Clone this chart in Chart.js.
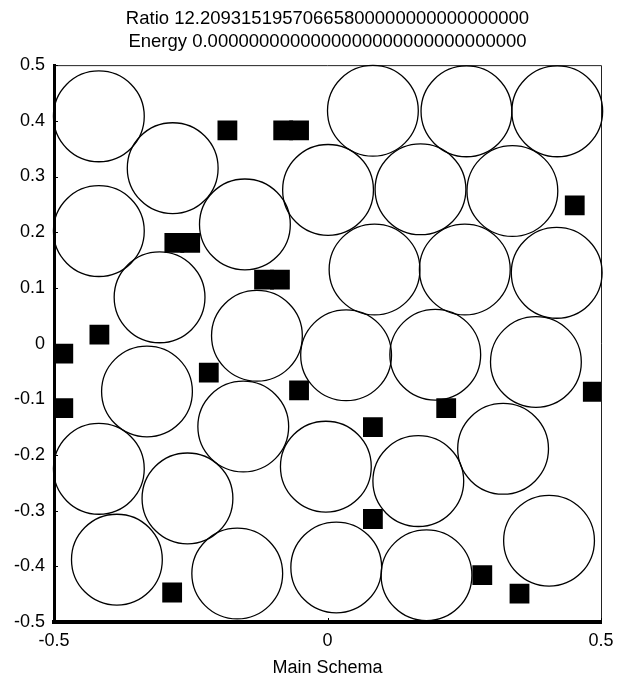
<!DOCTYPE html>
<html>
<head>
<meta charset="utf-8">
<script src="https://cdn.jsdelivr.net/npm/chart.js@4.4.1/dist/chart.umd.min.js"></script>
<style>
  html, body { margin: 0; padding: 0; background: #fff; }
  #wrap { width: 628px; height: 679px; }
</style>
</head>
<body>
<div id="wrap"><canvas id="c" width="628" height="679"></canvas></div>
<script>
// Header text
const titleLines = [
  'Ratio 12.20931519570665800000000000000000',
  'Energy 0.0000000000000000000000000000000'
];
const xAxisTitle = 'Main Schema';

// Disc centres (data units) and their common radius
const circleX = [-0.418, 0.083, 0.254, 0.420, -0.283, 0.001, 0.170, 0.338, -0.418, -0.151,
                 0.086, 0.251, 0.419, -0.307, -0.129, 0.034, 0.197, 0.381, -0.330, -0.154,
                 -0.003, 0.166, 0.321, -0.418, -0.256, 0.405, -0.385, -0.165, 0.016, 0.181];
const circleY = [0.408, 0.418, 0.417, 0.417, 0.315, 0.276, 0.277, 0.274, 0.202, 0.214,
                 0.133, 0.133, 0.127, 0.083, 0.014, -0.021, -0.020, -0.033, -0.086, -0.149,
                 -0.221, -0.247, -0.189, -0.225, -0.278, -0.354, -0.388, -0.413, -0.402, -0.416];
const circleRadius = 0.083;

// Filled square markers
const squareX = [-0.183, -0.081, -0.052, -0.280, -0.251, -0.116, -0.087, -0.417, 0.452, -0.483,
                 -0.483, -0.217, -0.052, -0.284, 0.217, 0.485, 0.083, 0.083, 0.283, 0.351];
const squareY = [0.383, 0.383, 0.383, 0.181, 0.181, 0.115, 0.115, 0.016, 0.248, -0.018,
                 -0.116, -0.052, -0.084, -0.447, -0.116, -0.0865, -0.150, -0.315, -0.416, -0.449];

// Axis ticks
const xTicks = [-0.5, 0, 0.5];
const xTickLabels = ['-0.5', '0', '0.5'];
const yTicks = [0.5, 0.4, 0.3, 0.2, 0.1, 0, -0.1, -0.2, -0.3, -0.4, -0.5];
const yTickLabels = ['0.5', '0.4', '0.3', '0.2', '0.1', '0', '-0.1', '-0.2', '-0.3', '-0.4', '-0.5'];

const FONT = "'Liberation Sans', Arial, sans-serif";

const circlePoints = circleX.map((x, i) => ({ x, y: circleY[i] }));
const squarePoints = squareX.map((x, i) => ({ x, y: squareY[i] }));

function labelFor(values, labels, v) {
  const i = values.findIndex(t => Math.abs(t - v) < 1e-9);
  return i >= 0 ? labels[i] : '';
}

function discRadiusPx(ctx) {
  const s = ctx.chart.scales.x;
  return Math.abs(s.getPixelForValue(circleRadius) - s.getPixelForValue(0));
}

// Centre the header over the plot area, draw the thin top/right frame
// and short inward tick marks
const framePlugin = {
  id: 'frame',
  afterLayout(chart) {
    const t = chart.titleBlock;
    if (t) {
      t.left = chart.chartArea.left;
      t.right = chart.chartArea.right;
      t.width = t.right - t.left;
    }
  },
  beforeDatasetsDraw(chart) {
    const { ctx, chartArea: a } = chart;
    ctx.save();
    ctx.strokeStyle = '#222';
    ctx.lineWidth = 1;
    ctx.beginPath();
    ctx.moveTo(a.left, a.top + 0.5);
    ctx.lineTo(a.right + 0.5, a.top + 0.5);
    ctx.lineTo(a.right + 0.5, a.bottom);
    ctx.stroke();
    ctx.restore();
  },
  afterDraw(chart) {
    const { ctx, chartArea: a, scales } = chart;
    ctx.save();
    ctx.strokeStyle = '#000';
    ctx.lineWidth = 1;
    ctx.beginPath();
    scales.y.ticks.forEach((t, i) => {
      const py = Math.round(scales.y.getPixelForTick(i)) + 0.5;
      ctx.moveTo(a.left, py);
      ctx.lineTo(a.left + 4, py);
    });
    scales.x.ticks.forEach((t, i) => {
      const px = Math.round(scales.x.getPixelForTick(i)) + 0.5;
      ctx.moveTo(px, a.bottom);
      ctx.lineTo(px, a.bottom - 4);
    });
    ctx.stroke();
    ctx.restore();
  }
};

new Chart(document.getElementById('c'), {
  type: 'scatter',
  data: {
    datasets: [
      {
        data: circlePoints,
        pointStyle: 'circle',
        backgroundColor: 'rgba(255,255,255,0)',
        borderColor: '#000',
        borderWidth: 1.3,
        pointRadius: discRadiusPx,
        pointHoverRadius: discRadiusPx,
        clip: false
      },
      {
        data: squarePoints,
        pointStyle: 'rect',
        backgroundColor: '#000',
        borderColor: '#000',
        borderWidth: 0,
        pointRadius: 14,
        pointHoverRadius: 14
      }
    ]
  },
  options: {
    responsive: false,
    devicePixelRatio: 1,
    animation: false,
    events: [],
    layout: { padding: { left: 0, right: 27, top: 0, bottom: 0 } },
    plugins: {
      legend: { display: false },
      tooltip: { enabled: false },
      title: {
        display: true,
        text: titleLines,
        color: '#000',
        font: { family: FONT, size: 18.5, weight: 'normal', lineHeight: 1.22 },
        padding: { top: 8, bottom: 12 }
      }
    },
    scales: {
      x: {
        type: 'linear',
        min: -0.5,
        max: 0.5,
        afterBuildTicks: (s) => { s.ticks = xTicks.map(v => ({ value: v })); },
        afterFit: (s) => { s.height = 57; },
        grid: { display: true, drawOnChartArea: false, drawTicks: false },
        border: { display: true, color: '#000', width: 4 },
        ticks: {
          color: '#000',
          padding: 8,
          maxRotation: 0,
          font: { family: FONT, size: 18 },
          callback: (v) => labelFor(xTicks, xTickLabels, v)
        },
        title: {
          display: true,
          text: xAxisTitle,
          color: '#000',
          font: { family: FONT, size: 18 },
          padding: { top: 0, bottom: 0 }
        }
      },
      y: {
        type: 'linear',
        min: -0.5,
        max: 0.5,
        afterBuildTicks: (s) => { s.ticks = yTicks.map(v => ({ value: v })); },
        afterFit: (s) => { s.width = 54; },
        grid: { display: true, drawOnChartArea: false, drawTicks: false },
        border: { display: true, color: '#000', width: 3 },
        ticks: {
          color: '#000',
          padding: 9,
          font: { family: FONT, size: 18 },
          callback: (v) => labelFor(yTicks, yTickLabels, v)
        }
      }
    }
  },
  plugins: [framePlugin]
});
</script>
</body>
</html>
